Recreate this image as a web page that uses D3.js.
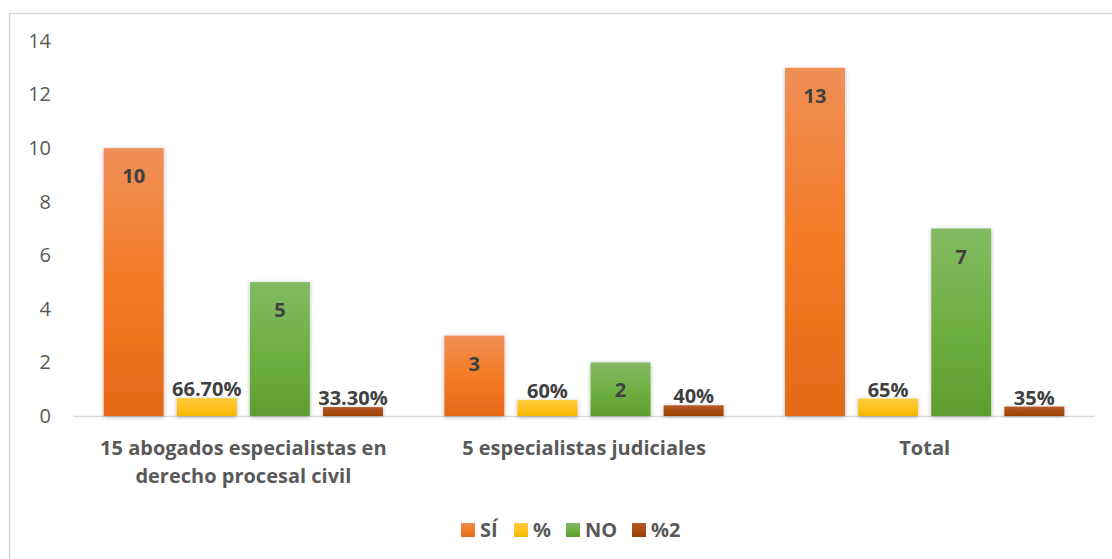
<!DOCTYPE html>
<html>
<head>
<meta charset="utf-8">
<script src="https://cdn.jsdelivr.net/npm/d3@7"></script>
<style>
  body { margin: 0; background: #fff; }
  svg { font-family: "Open Sans", Lato, sans-serif; }
</style>
</head>
<body>
<div id="chart"></div>
<script>
// data
const categories = [
  ["15 abogados especialistas en", "derecho procesal civil"],
  ["5 especialistas judiciales"],
  ["Total"]
];
const seriesNames = ["SÍ", "%", "NO", "%2"];
const siValues = [10, 3, 13];
const pctSiValues = [0.667, 0.6, 0.65];
const noValues = [5, 2, 7];
const pctNoValues = [0.333, 0.4, 0.35];
const pctSiLabels = ["66.70%", "60%", "65%"];
const pctNoLabels = ["33.30%", "40%", "35%"];
const yTicks = [0, 2, 4, 6, 8, 10, 12, 14];

const series = [
  { name: seriesNames[0], values: siValues, labels: siValues.map(String), inside: true },
  { name: seriesNames[1], values: pctSiValues, labels: pctSiLabels, inside: false },
  { name: seriesNames[2], values: noValues, labels: noValues.map(String), inside: true },
  { name: seriesNames[3], values: pctNoValues, labels: pctNoLabels, inside: false }
];
const grads = [
  ["#f08f58", "#f47b25", "#e36a17"],
  ["#ffcb3d", "#ffc220", "#f2b800"],
  ["#84ba64", "#6fb043", "#5e9e30"],
  ["#b65c2b", "#a84c14", "#9b4100"]
];

const W = 1112, H = 559;
const svg = d3.select("#chart").append("svg")
  .attr("width", W).attr("height", H);

const defs = svg.append("defs");
grads.forEach((g, i) => {
  const lg = defs.append("linearGradient")
    .attr("id", "grad" + i)
    .attr("x1", 0).attr("y1", 0).attr("x2", 0).attr("y2", 1);
  lg.append("stop").attr("offset", "0%").attr("stop-color", g[0]);
  lg.append("stop").attr("offset", "50%").attr("stop-color", g[1]);
  lg.append("stop").attr("offset", "100%").attr("stop-color", g[2]);
});
const flt = defs.append("filter").attr("id", "shadow")
  .attr("x", "-20%").attr("y", "-20%").attr("width", "140%").attr("height", "140%");
flt.append("feDropShadow")
  .attr("dx", 0).attr("dy", 1).attr("stdDeviation", 2)
  .attr("flood-color", "#000").attr("flood-opacity", 0.3);

// chart frame
svg.append("rect")
  .attr("x", 9.5).attr("y", 13.5)
  .attr("width", W + 20).attr("height", H + 20)
  .attr("fill", "none").attr("stroke", "#d9d9d9").attr("stroke-width", 1.5);

const margin = { left: 73, right: 17, top: 41, bottom: 143 };
const x0 = d3.scaleBand()
  .domain(d3.range(categories.length))
  .range([margin.left, W - margin.right]);
const x1 = d3.scaleBand()
  .domain(d3.range(series.length))
  .range([0, x0.bandwidth()])
  .paddingInner(0.18)
  .paddingOuter(0.42);
const y = d3.scaleLinear()
  .domain([0, 14])
  .range([H - margin.bottom, margin.top]);

// y axis labels
const yAxis = svg.append("g")
  .attr("transform", `translate(${margin.left - 22},0)`)
  .call(d3.axisLeft(y).tickValues(yTicks).tickSize(0).tickPadding(0));
yAxis.select(".domain").remove();
yAxis.selectAll("text")
  .attr("fill", "#595959")
  .attr("font-size", 20)
  .attr("font-family", "'Open Sans', Lato, sans-serif");

// baseline
svg.append("line")
  .attr("x1", margin.left).attr("x2", W - margin.right)
  .attr("y1", y(0) + 0.5).attr("y2", y(0) + 0.5)
  .attr("stroke", "#d9d9d9").attr("stroke-width", 1.5);

// bars
const groups = svg.append("g").selectAll("g")
  .data(categories)
  .enter().append("g")
  .attr("transform", (d, i) => `translate(${x0(i)},0)`);

series.forEach((s, si) => {
  groups.append("rect")
    .attr("x", x1(si))
    .attr("width", x1.bandwidth())
    .attr("y", (d, i) => y(s.values[i]))
    .attr("height", (d, i) => y(0) - y(s.values[i]))
    .attr("fill", `url(#grad${si})`)
    .attr("filter", "url(#shadow)");

  groups.append("text")
    .attr("x", x1(si) + x1.bandwidth() / 2)
    .attr("y", (d, i) => s.inside ? y(s.values[i]) + 35 : y(s.values[i]) - 2)
    .attr("text-anchor", "middle")
    .attr("font-size", 20)
    .attr("font-weight", "bold")
    .attr("fill", "#404040")
    .text((d, i) => s.labels[i]);
});

// category labels
svg.append("g").selectAll("text")
  .data(categories)
  .enter().append("text")
  .attr("x", (d, i) => x0(i) + x0.bandwidth() / 2)
  .attr("y", 455)
  .attr("text-anchor", "middle")
  .attr("font-size", 20)
  .attr("font-weight", "bold")
  .attr("fill", "#595959")
  .each(function(d) {
    const t = d3.select(this);
    d.forEach((line, k) => {
      t.append("tspan")
        .attr("x", t.attr("x"))
        .attr("dy", k === 0 ? 0 : 28)
        .text(line);
    });
  });

// legend
const legendX = [461, 514, 566, 632];
const legend = svg.append("g").selectAll("g")
  .data(series)
  .enter().append("g")
  .attr("transform", (d, i) => `translate(${legendX[i]},523)`);
legend.append("rect")
  .attr("width", 14).attr("height", 14)
  .attr("fill", (d, i) => `url(#grad${i})`);
legend.append("text")
  .attr("x", 19).attr("y", 14)
  .attr("font-size", 20)
  .attr("font-weight", "bold")
  .attr("fill", "#595959")
  .text(d => d.name);
</script>
</body>
</html>
